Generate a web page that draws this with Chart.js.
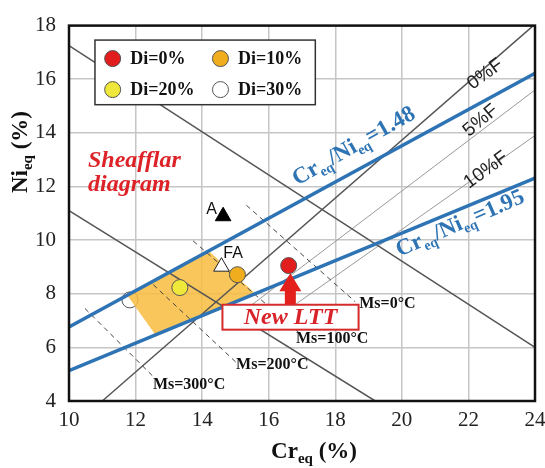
<!DOCTYPE html>
<html><head><meta charset="utf-8">
<script src="https://cdn.jsdelivr.net/npm/chart.js@4.4.1/dist/chart.umd.min.js"></script>
<style>html,body{margin:0;padding:0;background:#fff;}#wrap{width:545px;height:468px;position:relative;}</style>
</head><body><div id="wrap"><canvas id="c"></canvas></div>
<script>
// ---- data ----
const xTicks = [10, 12, 14, 16, 18, 20, 22, 24];
const yTicks = [4, 6, 8, 10, 12, 14, 16, 18];
const diNames = ['Di=0%', 'Di=10%', 'Di=20%', 'Di=30%'];
const diCr = [16.60, 15.06, 13.33, 11.83];
const diNi = [9.05, 8.71, 8.23, 7.77];
const diColors = ['#e21d1d', '#f0ad1e', '#efe73a', '#ffffff'];
const markerNames = ['A', 'FA'];
const markerCr = [14.63, 14.58];
const markerNi = [10.89, 9.01];
const ratioNames = ['1.48', '1.95'];
const ratioCr = [10, 24];
const ratio148Ni = [6.76, 16.22];
const ratio195Ni = [5.13, 12.31];
const ferriteNames = ['0%F', '5%F', '10%F'];
const ferriteCr = [[11.0, 23.95], [15.4, 24], [16.8, 24]];
const ferriteNi = [[4.0, 18.0], [7.5, 15.6], [7.6, 13.9]];
const boundaryCr = [[10, 24], [10, 19.2]];
const boundaryNi = [[17.25, 6.0], [11.1, 4.0]];
const msNames = ['Ms=0°C', 'Ms=100°C', 'Ms=200°C', 'Ms=300°C'];
const msCr = [[15.33, 18.6], [13.73, 17.0], [12.53, 15.03], [10.48, 12.58]];
const msNi = [[11.3, 7.7], [9.97, 6.45], [8.34, 5.43], [7.45, 4.85]];
const zoneCr = [11.75, 14.2, 15.6, 12.6];
const zoneNi = [7.94, 9.59, 8.0, 6.46];
// annotation anchors (data units)
const ferriteLabelCr = [22.12, 22.02, 22.02];
const ferriteLabelNi = [15.6, 13.84, 11.91];
const ferriteLabelDeg = [-36, -40, -36];
const msLabelCr = [18.72, 16.82, 15.02, 12.52];
const msLabelNi = [7.63, 6.30, 5.33, 4.61];
const ltt = {cr: 16.65, tipNi: 8.76, box: [14.61, 7.59, 18.7, 6.66]};

const pts = (xs, ys) => xs.map((x, i) => ({x: x, y: ys[i]}));
const SERIF = '"Liberation Serif", "Times New Roman", serif';
const SANS = '"Liberation Sans", Arial, sans-serif';

const datasets = [];
diNames.forEach((n, i) => datasets.push({
  label: n, data: [{x: diCr[i], y: diNi[i]}], showLine: false,
  pointRadius: 8, pointBackgroundColor: diColors[i], pointBorderColor: '#555', pointBorderWidth: 1,
  order: i === 3 ? 20 : 1
}));
datasets.push({label: 'A', data: [{x: markerCr[0], y: markerNi[0]}], showLine: false, pointStyle: 'triangle',
  pointRadius: 9, pointBackgroundColor: '#000', pointBorderColor: '#000', pointBorderWidth: 1, order: 1});
datasets.push({label: 'FA', data: [{x: markerCr[1], y: markerNi[1]}], showLine: false, pointStyle: 'triangle',
  pointRadius: 9, pointBackgroundColor: '#fff', pointBorderColor: '#222', pointBorderWidth: 1, order: 1});
[ratio148Ni, ratio195Ni].forEach((ni, i) => datasets.push({
  label: 'Cr/Ni=' + ratioNames[i], data: pts(ratioCr, ni), borderColor: '#2e74b5', borderWidth: 3.5,
  pointRadius: 0, order: 2
}));
msNames.forEach((n, i) => datasets.push({
  label: n, data: pts(msCr[i], msNi[i]), borderColor: '#444', borderWidth: 1, borderDash: [5, 4],
  pointRadius: 0, order: 3
}));
boundaryCr.forEach((c, i) => datasets.push({
  label: 'boundary' + i, data: pts(c, boundaryNi[i]), borderColor: '#555', borderWidth: 1.5,
  pointRadius: 0, order: 4
}));
ferriteNames.forEach((n, i) => datasets.push({
  label: n, data: pts(ferriteCr[i], ferriteNi[i]), borderColor: i === 0 ? '#555' : '#999',
  borderWidth: i === 0 ? 1.4 : 1, pointRadius: 0, order: 5
}));

function rich(ctx, parts, x, y, align, style) {
  let w = 0;
  parts.forEach(p => { ctx.font = style + ' ' + p[1] + 'px ' + SERIF; w += ctx.measureText(p[0]).width; });
  let cx = align === 'center' ? x - w / 2 : x;
  ctx.textAlign = 'left';
  parts.forEach(p => {
    ctx.font = style + ' ' + p[1] + 'px ' + SERIF;
    ctx.fillText(p[0], cx, y + (p[2] || 0));
    cx += ctx.measureText(p[0]).width;
  });
}

const zonePlugin = {
  id: 'zone',
  afterDatasetDraw(chart, args) {
    if (args.meta.label !== 'Di=30%') return;
    const ctx = chart.ctx, sx = chart.scales.x, sy = chart.scales.y;
    ctx.save();
    ctx.beginPath();
    zoneCr.forEach((c, i) => {
      const X = sx.getPixelForValue(c), Y = sy.getPixelForValue(zoneNi[i]);
      i ? ctx.lineTo(X, Y) : ctx.moveTo(X, Y);
    });
    ctx.closePath();
    ctx.fillStyle = 'rgba(247,188,62,0.85)';
    ctx.fill();
    ctx.restore();
  }
};

const annoPlugin = {
  id: 'anno',
  afterDraw(chart) {
    const ctx = chart.ctx, sx = chart.scales.x, sy = chart.scales.y, a = chart.chartArea;
    const px = v => sx.getPixelForValue(v), py = v => sy.getPixelForValue(v);
    ctx.save();
    // frame
    ctx.strokeStyle = '#111'; ctx.lineWidth = 2.5;
    ctx.strokeRect(a.left, a.top, a.right - a.left, a.bottom - a.top);

    // ratio labels
    const ratioLines = [ratio148Ni, ratio195Ni];
    const ratioLab = [[17.08, -15], [19.68, 21]];
    ctx.fillStyle = '#2e74b5'; ctx.textBaseline = 'alphabetic';
    ratioLines.forEach((ni, i) => {
      const x0 = ratioLab[i][0];
      const t = (x0 - ratioCr[0]) / (ratioCr[1] - ratioCr[0]);
      const n0 = ni[0] + t * (ni[1] - ni[0]);
      const ang = Math.atan2(py(ni[1]) - py(ni[0]), px(ratioCr[1]) - px(ratioCr[0]));
      ctx.save();
      ctx.translate(px(x0), py(n0));
      ctx.rotate(ang - 0.02);
      rich(ctx, [['Cr', 23], ['eq', 14, 5], ['/Ni', 23], ['eq', 14, 5], ['=' + ratioNames[i], 23]], 0, ratioLab[i][1], 'left', 'bold');
      ctx.restore();
    });

    // ferrite labels
    ctx.fillStyle = '#222'; ctx.font = '19px ' + SANS;
    ferriteNames.forEach((n, i) => {
      ctx.save();
      ctx.translate(px(ferriteLabelCr[i]), py(ferriteLabelNi[i]));
      ctx.rotate(ferriteLabelDeg[i] * Math.PI / 180);
      ctx.textAlign = 'left'; ctx.textBaseline = 'alphabetic';
      ctx.fillText(n, 0, 0);
      ctx.restore();
    });

    // Ms labels
    ctx.fillStyle = '#111'; ctx.font = 'bold 16px ' + SERIF; ctx.textAlign = 'left'; ctx.textBaseline = 'middle';
    msNames.forEach((n, i) => ctx.fillText(n, px(msLabelCr[i]), py(msLabelNi[i])));

    // A / FA labels
    ctx.font = '16px ' + SANS; ctx.textAlign = 'center';
    ctx.fillText('A', px(14.28), py(11.15));
    ctx.fillText('FA', px(14.93), py(9.49));

    // Sheafflar diagram
    ctx.fillStyle = '#dd2328'; ctx.font = 'italic bold 24px ' + SERIF; ctx.textAlign = 'left'; ctx.textBaseline = 'alphabetic';
    ctx.fillText('Sheafflar', px(10.57), py(12.71));
    ctx.fillText('diagram', px(10.57), py(11.84));

    // arrow
    const ax = px(ltt.cr), baseY = py(ltt.box[1]), tipY = py(ltt.tipNi);
    ctx.fillStyle = '#e3201b';
    ctx.beginPath();
    ctx.moveTo(ax - 5.5, baseY); ctx.lineTo(ax - 5.5, tipY + 18); ctx.lineTo(ax - 11, tipY + 18);
    ctx.lineTo(ax, tipY); ctx.lineTo(ax + 11, tipY + 18); ctx.lineTo(ax + 5.5, tipY + 18);
    ctx.lineTo(ax + 5.5, baseY); ctx.closePath(); ctx.fill();

    // New LTT box
    const bx0 = px(ltt.box[0]), by0 = py(ltt.box[1]), bx1 = px(ltt.box[2]), by1 = py(ltt.box[3]);
    ctx.fillStyle = '#fff'; ctx.fillRect(bx0, by0, bx1 - bx0, by1 - by0);
    ctx.strokeStyle = '#d42a2a'; ctx.lineWidth = 2; ctx.strokeRect(bx0, by0, bx1 - bx0, by1 - by0);
    ctx.fillStyle = '#d9232a'; ctx.font = 'italic bold 24px ' + SERIF; ctx.textAlign = 'center'; ctx.textBaseline = 'middle';
    ctx.fillText('New LTT', (bx0 + bx1) / 2, (by0 + by1) / 2 + 1);

    // legend
    const lx0 = px(10.78), ly0 = py(17.46), lx1 = px(17.4), ly1 = py(15.05);
    ctx.fillStyle = '#fff'; ctx.fillRect(lx0, ly0, lx1 - lx0, ly1 - ly0);
    ctx.strokeStyle = '#333'; ctx.lineWidth = 1.5; ctx.strokeRect(lx0, ly0, lx1 - lx0, ly1 - ly0);
    const rows = [ly0 + 18.5, ly0 + 49.5];
    const cols = [lx0 + 17.7, lx0 + 125.5];
    diNames.forEach((n, i) => {
      const cx = cols[i % 2], cy = rows[Math.floor(i / 2)];
      ctx.beginPath(); ctx.arc(cx, cy, 8, 0, Math.PI * 2);
      ctx.fillStyle = diColors[i]; ctx.fill();
      ctx.strokeStyle = '#555'; ctx.lineWidth = 1; ctx.stroke();
      ctx.fillStyle = '#111'; ctx.font = 'bold 18px ' + SERIF; ctx.textAlign = 'left'; ctx.textBaseline = 'middle';
      ctx.fillText(n, cx + 17.5, cy + 1);
    });

    // axis titles
    ctx.fillStyle = '#111'; ctx.textBaseline = 'alphabetic';
    rich(ctx, [['Cr', 23], ['eq', 15, 5], [' (%)', 23]], 314, 458, 'center', 'bold');
    ctx.save();
    ctx.translate(27, 152); ctx.rotate(-Math.PI / 2);
    rich(ctx, [['Ni', 23], ['eq', 15, 5], [' (%)', 23]], 0, 0, 'center', 'bold');
    ctx.restore();
    ctx.restore();
  }
};

new Chart(document.getElementById('c'), {
  type: 'line',
  data: {datasets: datasets},
  options: {
    responsive: true, maintainAspectRatio: false, animation: false,
    layout: {padding: {left: 0, right: 9, top: 16, bottom: 0}},
    plugins: {legend: {display: false}, tooltip: {enabled: false}},
    elements: {line: {tension: 0, fill: false}},
    scales: {
      x: {
        type: 'linear', min: 10, max: 24,
        afterBuildTicks: s => { s.ticks = xTicks.map(v => ({value: v})); },
        afterFit: s => { s.height = 67; s.paddingRight = 9; s.paddingLeft = 0; },
        ticks: {font: {family: SERIF, size: 21}, color: '#222', padding: 7},
        grid: {color: '#c6c6c6', lineWidth: 1.5, drawTicks: false},
        border: {display: false}
      },
      y: {
        type: 'linear', min: 4, max: 18,
        afterBuildTicks: s => { s.ticks = yTicks.map(v => ({value: v})); },
        afterFit: s => { s.width = 69; },
        ticks: {font: {family: SERIF, size: 21}, color: '#222', padding: 13},
        grid: {color: '#c6c6c6', lineWidth: 1.5, drawTicks: false},
        border: {display: false}
      }
    }
  },
  plugins: [zonePlugin, annoPlugin]
});
</script></body></html>
